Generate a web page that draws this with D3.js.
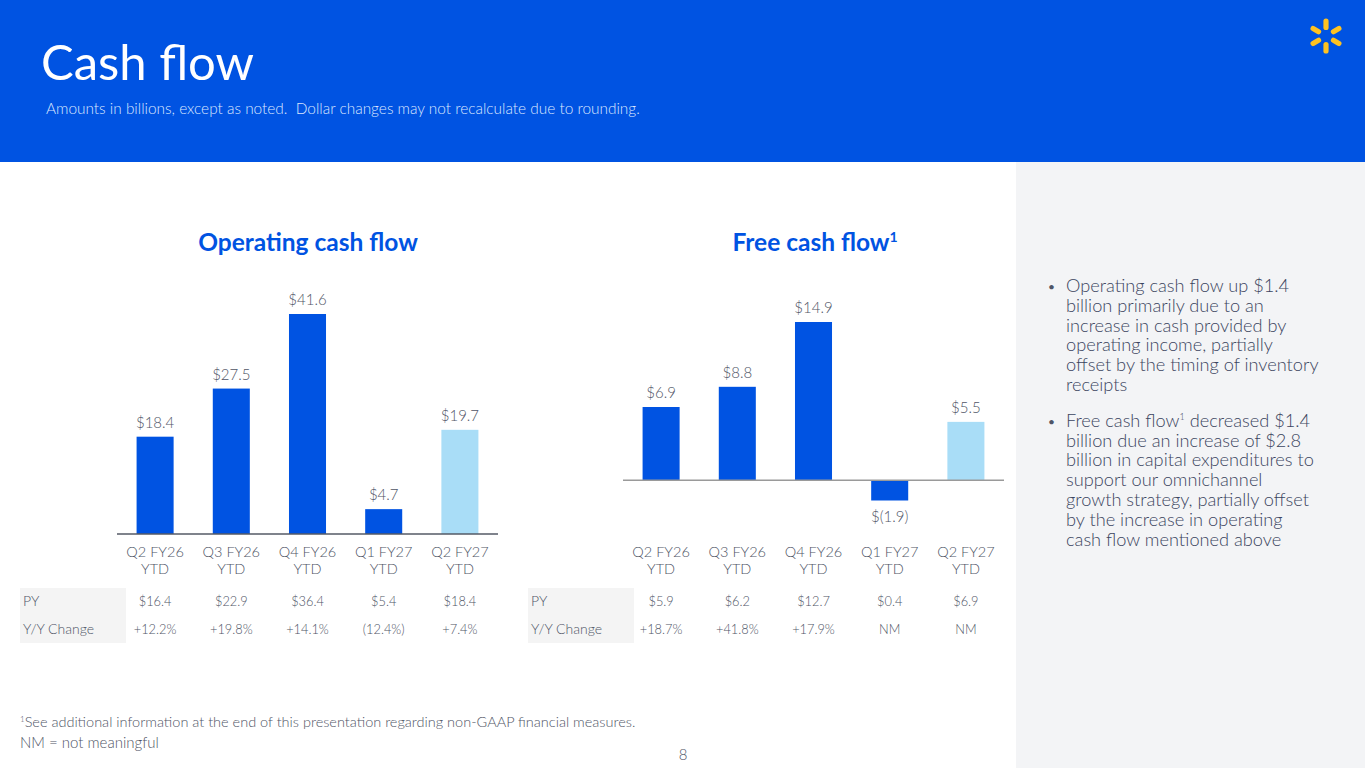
<!DOCTYPE html>
<html>
<head>
<meta charset="utf-8">
<script src="https://cdn.jsdelivr.net/npm/d3@7"></script>
<style>
  body { margin: 0; background: #fff; }
  svg { display: block; font-family: Lato, "Open Sans", sans-serif; }
</style>
</head>
<body>
<svg id="chart" width="1365" height="768"></svg>
<script>
// data
const periods = ["Q2 FY26 YTD", "Q3 FY26 YTD", "Q4 FY26 YTD", "Q1 FY27 YTD", "Q2 FY27 YTD"];
const ocfValues = [18.4, 27.5, 41.6, 4.7, 19.7];
const fcfValues = [6.9, 8.8, 14.9, -1.9, 5.5];
const ocfPY = ["$16.4", "$22.9", "$36.4", "$5.4", "$18.4"];
const ocfChange = ["+12.2%", "+19.8%", "+14.1%", "(12.4%)", "+7.4%"];
const fcfPY = ["$5.9", "$6.2", "$12.7", "$0.4", "$6.9"];
const fcfChange = ["+18.7%", "+41.8%", "+17.9%", "NM", "NM"];
const rowLabels = ["PY", "Y/Y Change"];
const bullets = [
  ["Operating cash flow up $1.4", "billion primarily due to an", "increase in cash provided by",
   "operating income, partially", "offset by the timing of inventory", "receipts"],
  ["Free cash flow¹ decreased $1.4", "billion due an increase of $2.8", "billion in capital expenditures to",
   "support our omnichannel", "growth strategy, partially offset", "by the increase in operating",
   "cash flow mentioned above"]
];

const BLUE = "#0053e2", LIGHT = "#a9ddf7", TEXT = "#4f5566";
const svg = d3.select("#chart");

// header band
svg.append("rect").attr("x", 0).attr("y", 0).attr("width", 1365).attr("height", 162).attr("fill", BLUE);
svg.append("text").attr("x", 41).attr("y", 80).attr("fill", "#fff")
   .style("font-size", "49px").style("font-weight", 400).text("Cash flow");
svg.append("text").attr("x", 46).attr("y", 114).attr("fill", "#dbe6ff")
   .style("font-size", "15.4px").style("font-weight", 300)
   .text("Amounts in billions, except as noted.\u00a0 Dollar changes may not recalculate due to rounding.");

// spark logo
const spark = svg.append("g").attr("transform", "translate(1326,36)");
d3.range(6).forEach(i => {
  spark.append("rect").attr("x", -2.6).attr("y", -17.5).attr("width", 5.2).attr("height", 11.5)
       .attr("rx", 2.6).attr("fill", "#ffc220")
       .attr("transform", `rotate(${i * 60})`);
});

// side panel
svg.append("rect").attr("x", 1016).attr("y", 162).attr("width", 349).attr("height", 606).attr("fill", "#f3f4f6");
let by = 292;
bullets.forEach(lines => {
  svg.append("text").attr("x", 1048).attr("y", by - 1).attr("fill", TEXT).style("font-size", "12px").text("•");
  lines.forEach((ln, li) => {
    const t = svg.append("text").attr("x", 1066).attr("y", by + li * 19.8)
      .attr("fill", "#3b4560").style("font-size", "18.2px").style("font-weight", 300);
    if (ln.includes("¹")) {
      const parts = ln.split("¹");
      t.append("tspan").text(parts[0]);
      t.append("tspan").attr("dy", -7).style("font-size", "9px").text("1");
      t.append("tspan").attr("dy", 7).text(parts[1]);
    } else t.text(ln);
  });
  by += lines.length * 19.8 + 16;
});

const fmt = v => v < 0 ? `$(${Math.abs(v).toFixed(1)})` : `$${v.toFixed(1)}`;

function barChart(opt) {
  const g = svg.append("g");
  const x = d3.scaleBand().domain(periods).range(opt.xr).paddingInner(0.514).paddingOuter(0.257);
  const y = d3.scaleLinear().domain(opt.yd).range(opt.yr);

  const title = g.append("text").attr("x", opt.titleX).attr("y", 251).attr("text-anchor", "middle")
    .attr("fill", BLUE).style("font-size", "24.5px").style("font-weight", 700);
  title.append("tspan").text(opt.title);
  if (opt.sup) title.append("tspan").attr("dy", -9).style("font-size", "14px").text(opt.sup);

  g.selectAll("rect.bar").data(opt.values).enter().append("rect").attr("class", "bar")
    .attr("x", (d, i) => x(periods[i]))
    .attr("y", d => y(Math.max(0, d)))
    .attr("width", x.bandwidth())
    .attr("height", d => Math.abs(y(d) - y(0)))
    .attr("fill", (d, i) => i === periods.length - 1 ? LIGHT : BLUE);

  g.append("line").attr("x1", opt.xr[0]).attr("x2", opt.xr[1]).attr("y1", y(0)).attr("y2", y(0))
    .attr("stroke", opt.axisColor).attr("stroke-width", 1.5);

  g.selectAll("text.val").data(opt.values).enter().append("text").attr("class", "val")
    .attr("x", (d, i) => x(periods[i]) + x.bandwidth() / 2)
    .attr("y", d => d < 0 ? y(d) + 21 : y(d) - 9)
    .attr("text-anchor", "middle").attr("fill", TEXT)
    .style("font-size", "15px").style("font-weight", 300).text(fmt);

  const cat = g.selectAll("text.cat").data(periods).enter().append("text").attr("class", "cat")
    .attr("text-anchor", "middle").attr("fill", TEXT).style("font-size", "14.5px").style("font-weight", 300);
  cat.append("tspan").attr("x", d => x(d) + x.bandwidth() / 2).attr("y", 557).text(d => d.slice(0, 7));
  cat.append("tspan").attr("x", d => x(d) + x.bandwidth() / 2).attr("y", 574).text(d => d.slice(8));

  // table
  g.append("rect").attr("x", opt.tableX).attr("y", 588).attr("width", 106).attr("height", 55).attr("fill", "#f4f4f4");
  [opt.py, opt.change].forEach((row, ri) => {
    const ry = 606 + ri * 28;
    g.append("text").attr("x", opt.tableX + 3).attr("y", ry).attr("fill", TEXT)
      .style("font-size", "14px").style("font-weight", 300).text(rowLabels[ri]);
    g.selectAll(null).data(row).enter().append("text")
      .attr("x", (d, i) => x(periods[i]) + x.bandwidth() / 2)
      .attr("y", ry).attr("text-anchor", "middle").attr("fill", TEXT)
      .style("font-size", "12.8px").style("font-weight", 300).text(d => d);
  });
}

barChart({ title: "Operating cash flow", titleX: 308, xr: [117, 498], yd: [0, 41.6], yr: [534, 314],
  values: ocfValues, py: ocfPY, change: ocfChange, tableX: 20, axisColor: "#555a66" });
barChart({ title: "Free cash flow", sup: "1", titleX: 815, xr: [623, 1004], yd: [-1.9, 14.9], yr: [500.5, 322],
  values: fcfValues, py: fcfPY, change: fcfChange, tableX: 528, axisColor: "#9a9a9a" });

// footnotes
const fn = svg.append("text").attr("x", 20).attr("y", 727).attr("fill", TEXT)
  .style("font-size", "14.5px").style("font-weight", 300);
fn.append("tspan").attr("dy", -5).style("font-size", "8px").text("1");
fn.append("tspan").attr("dy", 5).text("See additional information at the end of this presentation regarding non-GAAP financial measures.");
svg.append("text").attr("x", 20).attr("y", 748).attr("fill", TEXT)
  .style("font-size", "15px").style("font-weight", 300).text("NM = not meaningful");
svg.append("text").attr("x", 683).attr("y", 760).attr("text-anchor", "middle").attr("fill", TEXT)
  .style("font-size", "15px").style("font-weight", 300).text("8");
</script>
</body>
</html>
